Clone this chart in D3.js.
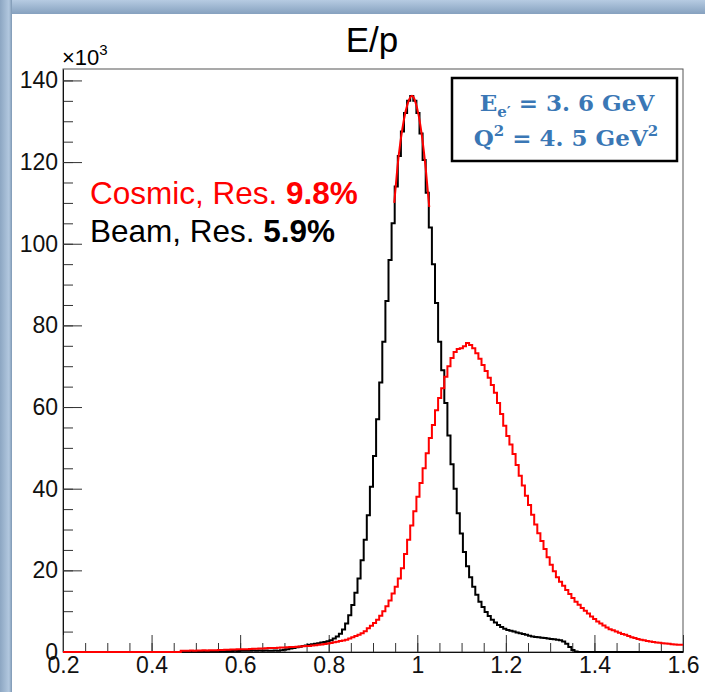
<!DOCTYPE html>
<html>
<head>
<meta charset="utf-8">
<script src="https://cdn.jsdelivr.net/npm/d3@7"></script>
<style>
  body { margin: 0; background: #fff; }
  svg { display: block; font-family: "Liberation Sans", Arial, sans-serif; }
</style>
</head>
<body>
<svg id="drawing_region"></svg>
<script>
// E/p, 200 bins between 0.2 and 1.6, counts in units of 10^3
const xRange = [0.2, 1.6];
const nBins = 200;

const beamCounts = [
  0,0,0,0,0,0,0,0,0,0,
  0,0,0,0,0,0,0,0,0,0,
  0,0,0,0,0,0,0,0,0,0,
  0,0,0,0,0,0,0,0,0.1,0.1,
  0.1,0.15,0.1,0.15,0.15,0.2,0.15,0.2,0.2,0.2,
  0.2,0.25,0.2,0.25,0.25,0.3,0.25,0.3,0.3,0.3,
  0.3,0.35,0.3,0.35,0.3,0.35,0.3,0.3,0.35,0.3,
  0.4,0.55,0.7,0.85,1.0,1.15,1.3,1.45,1.6,1.75,
  1.9,2.0,2.15,2.3,2.45,2.65,2.9,3.3,3.8,4.5,
  5.5,7.0,9.0,11.5,14.5,18,22.5,27.5,33.5,40.5,
  48,57,66,76,86,96,105,114,121.5,127.5,
  132,135,136.2,135,132,127,120.5,112.5,104,95,
  85.5,76,69,61,53,46,40,34,29,24.5,
  21,18.3,16,14,12.3,11,9.8,8.8,7.9,7.2,
  6.6,6.1,5.7,5.4,5.2,5.0,4.8,4.6,4.4,4.2,
  4.0,3.8,3.7,3.6,3.5,3.4,3.3,3.2,3.1,3.0,
  2.9,2.6,2.0,1.2,0.5,0.1,0,0,0,0,
  0,0,0,0,0,0,0,0,0,0,
  0,0,0,0,0,0,0,0,0,0,
  0,0,0,0,0,0,0,0,0,0
];

const cosmicCounts = [
  0,0,0,0,0,0,0,0,0,0,
  0,0,0,0,0,0,0,0,0,0,
  0,0,0,0,0,0,0,0,0,0,
  0,0,0,0,0,0,0,0,0.3,0.3,
  0.3,0.35,0.3,0.35,0.35,0.4,0.35,0.4,0.4,0.45,
  0.5,0.5,0.55,0.55,0.6,0.6,0.65,0.65,0.7,0.7,
  0.75,0.8,0.8,0.85,0.85,0.9,0.95,0.95,1.0,1.05,
  1.1,1.1,1.15,1.2,1.25,1.3,1.35,1.4,1.45,1.5,
  1.6,1.65,1.75,1.85,1.95,2.1,2.2,2.4,2.5,2.7,
  2.8,3.0,3.3,3.6,3.9,4.2,4.6,5.1,5.8,6.4,
  7.1,7.9,8.9,10.0,11.2,12.6,14.3,16.0,18.0,20.5,
  24,27.5,31,34.5,38,41.4,45,48.7,52.4,55.6,
  59.2,62.2,64.6,67.4,70,72,73.5,74.2,74.4,74.9,
  75.7,75.2,74.4,73.2,71.8,70.3,68.8,67.2,65.4,63.5,
  61,58.3,55.4,52.9,50.8,48.5,45.8,43.2,40.8,38.3,
  36,33.6,31.2,29.1,27.2,25.2,23.2,21.4,19.8,18.3,
  17.2,16.2,15.2,14.2,13.2,12.3,11.6,10.8,10.1,9.4,
  8.7,8.1,7.5,7.0,6.5,6.0,5.6,5.3,5.0,4.7,
  4.4,4.2,3.9,3.6,3.4,3.2,3.0,2.85,2.7,2.55,
  2.45,2.35,2.25,2.15,2.1,2.0,1.9,1.85,1.8,1.75
];

// fit curve on the beam peak (red)
const fitX = [0.948, 0.955, 0.962, 0.970, 0.978, 0.987, 0.995, 1.003, 1.011, 1.019, 1.027];
const fitY = [110, 118.5, 125, 130.5, 134.2, 136.2, 135, 131.5, 126, 118.5, 109];

const xTicks = [0.2, 0.4, 0.6, 0.8, 1.0, 1.2, 1.4, 1.6];
const xMinorTicks = d3.range(0.2, 1.6001, 0.05);
const yTicks = [0, 20, 40, 60, 80, 100, 120, 140];
const yMinorTicks = d3.range(0, 141, 5);
const yMax = 142.8;

const width = 705, height = 692;
const margin = {top: 69, left: 63, right: 22, bottom: 40};

const svg = d3.select('#drawing_region')
    .attr('width', width)
    .attr('height', height);

// slide-like border strips (top and left)
const defs = svg.append('defs');
const gTop = defs.append('linearGradient').attr('id', 'gtop')
    .attr('x1', 0).attr('y1', 0).attr('x2', 0).attr('y2', 1);
gTop.append('stop').attr('offset', '0%').attr('stop-color', '#b6cbe2');
gTop.append('stop').attr('offset', '100%').attr('stop-color', '#86a1bf');
const gLeft = defs.append('linearGradient').attr('id', 'gleft')
    .attr('x1', 0).attr('y1', 0).attr('x2', 1).attr('y2', 0);
gLeft.append('stop').attr('offset', '0%').attr('stop-color', '#8ca6c2');
gLeft.append('stop').attr('offset', '75%').attr('stop-color', '#b2c8df');
gLeft.append('stop').attr('offset', '100%').attr('stop-color', '#7d97b3');

svg.append('rect').attr('x', 0).attr('y', 0).attr('width', width).attr('height', 14).attr('fill', 'url(#gtop)');
svg.append('rect').attr('x', 0).attr('y', 0).attr('width', 12).attr('height', height).attr('fill', 'url(#gleft)');

const innerW = width - margin.left - margin.right;
const innerH = 652 - margin.top;

const chart = svg.append('g')
    .attr('transform', `translate(${margin.left}, ${margin.top})`);

const xscale = d3.scaleLinear().domain(xRange).range([0, innerW]);
const yscale = d3.scaleLinear().domain([0, yMax]).range([innerH, 0]);

// frame
chart.append('rect')
    .attr('width', innerW).attr('height', innerH)
    .attr('fill', 'none').attr('stroke', '#555').attr('stroke-width', 1);

// y axis (ticks pointing into the frame)
chart.append('g')
    .call(d3.axisLeft(yscale).tickValues(yMinorTicks).tickSize(-10).tickSizeOuter(0).tickFormat(''))
    .call(g => g.select('.domain').remove());
const yaxis_group = chart.append('g')
    .call(d3.axisLeft(yscale).tickValues(yTicks).tickSize(-19).tickSizeOuter(0).tickPadding(5));
yaxis_group.selectAll('text').attr('font-size', 23).attr('font-family', '"Liberation Sans", Arial, sans-serif')
    .attr('fill', '#111');

// x axis
chart.append('g')
    .attr('transform', `translate(0, ${innerH})`)
    .call(d3.axisBottom(xscale).tickValues(xMinorTicks).tickSize(-9).tickSizeOuter(0).tickFormat(''))
    .call(g => g.select('.domain').remove());
const xaxis_group = chart.append('g')
    .attr('transform', `translate(0, ${innerH})`)
    .call(d3.axisBottom(xscale).tickValues(xTicks).tickSize(-17).tickSizeOuter(0).tickPadding(5)
        .tickFormat(d => String(+d.toFixed(1))));
xaxis_group.selectAll('text').attr('font-size', 23).attr('font-family', '"Liberation Sans", Arial, sans-serif')
    .attr('fill', '#111');

chart.selectAll('.tick line').attr('stroke', '#333');
chart.selectAll('.domain').attr('stroke', '#111');

// histograms as step outlines
function histPoints(counts) {
  const w = (xRange[1] - xRange[0]) / nBins;
  const pts = counts.map((c, i) => [xRange[0] + i * w, c]);
  pts.push([xRange[1], counts[counts.length - 1]]);
  return pts;
}
const stepLine = d3.line()
    .x(d => xscale(d[0]))
    .y(d => yscale(d[1]))
    .curve(d3.curveStepAfter);

chart.append('path')
    .datum(histPoints(beamCounts))
    .attr('d', stepLine)
    .attr('fill', 'none').attr('stroke', '#000').attr('stroke-width', 2);

chart.append('path')
    .datum(histPoints(cosmicCounts))
    .attr('d', stepLine)
    .attr('fill', 'none').attr('stroke', '#ff0000').attr('stroke-width', 2);

chart.append('path')
    .datum(fitX.map((x, i) => [x, fitY[i]]))
    .attr('d', d3.line().x(d => xscale(d[0])).y(d => yscale(d[1])).curve(d3.curveNatural))
    .attr('fill', 'none').attr('stroke', '#ff0000').attr('stroke-width', 2);

// title and exponent
svg.append('text')
    .attr('x', 372).attr('y', 52)
    .attr('text-anchor', 'middle')
    .attr('font-size', 35)
    .text('E/p');

const expo = svg.append('text').attr('x', 62).attr('y', 65).attr('font-size', 22);
expo.append('tspan').text('×10');
expo.append('tspan').attr('dy', -10).attr('font-size', 15).text('3');

// legend text
const legendLabels = ['Cosmic, Res. ', 'Beam, Res. '];
const legendValues = ['9.8%', '5.9%'];
const legendColors = ['#ff0000', '#000000'];
legendLabels.forEach((lab, i) => {
  const t = svg.append('text')
      .attr('x', 90).attr('y', 204 + i * 38)
      .attr('font-size', 31.5)
      .attr('fill', legendColors[i]);
  t.append('tspan').text(lab);
  t.append('tspan').attr('font-weight', 'bold').text(legendValues[i]);
});

// kinematics box
svg.append('rect')
    .attr('x', 452).attr('y', 78).attr('width', 225).attr('height', 83)
    .attr('fill', '#fff').attr('stroke', '#000').attr('stroke-width', 2.5);

const boxColor = '#3a77b5';
const boxFont = '"DejaVu Serif", "Liberation Serif", serif';
const l1 = svg.append('text')
    .attr('x', 567).attr('y', 111)
    .attr('text-anchor', 'middle')
    .attr('font-family', boxFont)
    .attr('font-weight', 'bold').attr('font-size', 23)
    .attr('fill', boxColor);
l1.append('tspan').text('E');
l1.append('tspan').attr('dy', 6).attr('font-size', 15).text('e′');
l1.append('tspan').attr('dy', -6).text(' = 3. 6 GeV');

const l2 = svg.append('text')
    .attr('x', 566).attr('y', 146)
    .attr('text-anchor', 'middle')
    .attr('font-family', boxFont)
    .attr('font-weight', 'bold').attr('font-size', 23)
    .attr('fill', boxColor);
l2.append('tspan').text('Q');
l2.append('tspan').attr('dy', -10).attr('font-size', 15).text('2');
l2.append('tspan').attr('dy', 10).text(' = 4. 5 GeV');
l2.append('tspan').attr('dy', -10).attr('font-size', 15).text('2');
</script>
</body>
</html>
